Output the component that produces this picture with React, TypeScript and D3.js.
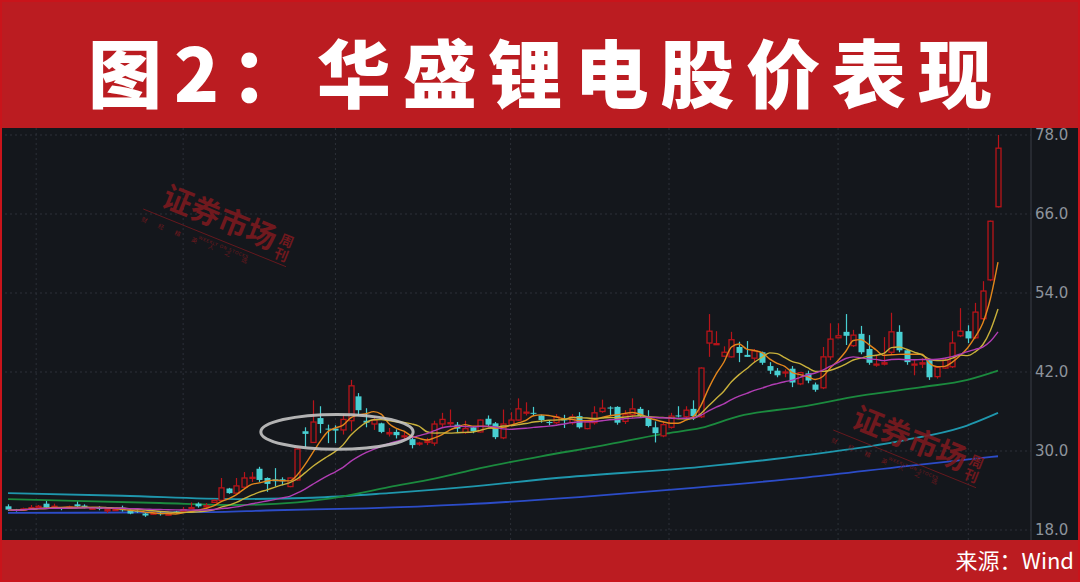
import { useEffect, useRef } from "react";
import * as d3 from "d3";

const W = 1080;
const H = 582;

// daily candles, left to right
const opens = [
  21.6, 21.1, 21.0, 21.3, 21.4, 22.0, 21.4, 21.4, 21.3, 21.9,
  21.7, 21.2, 21.5, 20.9, 21.0, 21.4, 21.0, 20.9, 20.5, 20.4,
  20.6, 20.3, 20.8, 20.8, 21.3, 22.0, 21.5, 22.2, 22.5, 24.3,
  23.6, 24.5, 25.9, 27.3, 25.9, 25.7, 25.7, 24.6, 25.6, 33.0,
  31.3, 35.0, 33.4, 33.4, 33.2, 34.6, 38.3, 34.6, 34.1, 34.2,
  32.6, 32.9, 32.2, 31.8, 31.1, 31.3, 31.2, 34.1, 34.2, 34.0,
  32.8, 33.6, 32.9, 34.9, 34.2, 32.0, 33.9, 34.7, 35.8, 35.8,
  35.4, 34.4, 34.3, 34.8, 34.3, 35.3, 33.4, 34.3, 36.0, 36.6,
  36.7, 34.5, 35.5, 36.4, 35.2, 33.6, 32.3, 33.6, 35.4, 35.2,
  36.4, 35.2, 46.4, 46.2, 44.4, 44.3, 45.8, 44.6, 44.1, 45.0,
  42.9, 42.2, 41.9, 42.5, 40.2, 41.8, 40.1, 39.6, 44.3, 47.2,
  48.1, 46.0, 47.8, 45.5, 43.1, 43.2, 45.0, 48.1, 45.3, 43.1,
  43.2, 43.8, 41.3, 42.6, 42.8, 47.5, 48.2, 47.2, 50.1, 56.0,
  67.1,
];
const highs = [
  21.9, 21.2, 21.4, 21.8, 21.8, 22.4, 22.0, 21.5, 21.7, 22.3,
  21.9, 21.5, 21.6, 21.2, 21.3, 21.7, 21.1, 21.0, 20.6, 20.8,
  20.8, 20.6, 20.9, 21.5, 22.2, 22.2, 22.1, 22.7, 25.9, 24.4,
  25.9, 26.8, 26.8, 27.6, 26.0, 27.4, 26.0, 26.0, 30.5, 33.6,
  37.7, 36.8, 34.0, 33.9, 35.6, 40.8, 38.8, 36.5, 35.3, 34.3,
  33.5, 33.3, 33.0, 32.1, 31.4, 32.0, 34.6, 35.8, 36.3, 34.4,
  34.6, 33.7, 34.8, 35.4, 34.4, 36.3, 35.9, 38.0, 37.4, 36.7,
  35.5, 34.7, 35.6, 35.5, 35.6, 35.9, 34.6, 36.8, 37.8, 36.8,
  36.8, 36.2, 38.0, 36.7, 36.2, 34.5, 34.5, 35.8, 36.8, 36.8,
  37.7, 42.7, 50.8, 48.2, 45.9, 48.1, 46.6, 46.7, 45.5, 45.1,
  43.5, 42.6, 42.4, 42.9, 42.0, 42.2, 40.4, 45.8, 49.4, 49.4,
  50.8, 48.4, 49.0, 47.6, 44.6, 47.3, 51.0, 49.1, 45.5, 43.8,
  44.1, 44.0, 42.8, 44.1, 48.2, 51.7, 49.1, 52.5, 55.8, 65.0,
  78.0,
];
const lows = [
  20.9, 20.8, 20.9, 21.2, 21.3, 21.3, 21.3, 21.0, 21.2, 21.5,
  21.3, 21.1, 21.0, 20.6, 20.9, 20.8, 20.4, 20.6, 20.0, 20.3,
  20.2, 20.2, 20.5, 20.7, 21.2, 21.4, 21.4, 22.1, 22.4, 23.5,
  23.5, 24.4, 25.3, 25.3, 23.8, 24.6, 24.8, 24.5, 25.5, 30.6,
  31.3, 32.7, 31.2, 31.2, 32.5, 33.0, 35.5, 33.6, 33.2, 32.7,
  32.2, 31.9, 31.7, 30.4, 30.8, 30.9, 30.8, 33.6, 33.8, 32.8,
  32.6, 32.7, 32.8, 33.6, 31.8, 31.8, 33.7, 34.6, 35.4, 35.4,
  34.3, 33.9, 34.1, 33.5, 34.0, 33.4, 33.3, 34.0, 35.8, 35.3,
  34.0, 34.1, 35.0, 35.2, 33.6, 31.3, 32.1, 33.4, 35.1, 35.0,
  34.7, 35.0, 44.3, 46.1, 44.3, 44.2, 43.5, 44.3, 43.4, 43.1,
  41.7, 41.2, 41.2, 39.7, 40.0, 40.3, 39.0, 39.4, 43.8, 47.2,
  46.1, 45.8, 44.7, 43.1, 42.8, 43.0, 44.6, 45.0, 43.1, 41.5,
  42.6, 40.8, 41.0, 42.5, 42.6, 47.3, 46.4, 47.0, 49.9, 55.8,
  67.0,
];
const closes = [
  21.1, 20.9, 21.2, 21.4, 21.6, 21.4, 21.6, 21.2, 21.5, 21.6,
  21.5, 21.3, 21.2, 21.1, 21.1, 21.0, 20.5, 20.8, 20.2, 20.6,
  20.4, 20.4, 20.6, 21.1, 21.4, 21.6, 21.7, 22.5, 24.4, 23.6,
  24.7, 25.9, 26.0, 25.6, 25.0, 25.4, 25.4, 25.9, 30.3, 32.6,
  34.4, 34.1, 33.3, 33.1, 34.8, 39.9, 36.2, 34.3, 34.7, 32.9,
  32.8, 32.4, 32.3, 30.9, 31.2, 31.5, 34.1, 34.8, 34.3, 33.4,
  33.4, 33.0, 34.7, 34.0, 32.1, 34.1, 34.7, 36.4, 35.9, 35.7,
  34.7, 34.3, 35.2, 34.7, 35.2, 33.6, 34.4, 35.8, 36.5, 36.5,
  34.3, 35.5, 36.4, 35.3, 33.8, 32.7, 34.0, 35.3, 35.3, 36.2,
  35.3, 42.6, 48.2, 46.3, 45.0, 46.9, 44.9, 44.3, 45.2, 43.4,
  42.2, 41.5, 42.0, 40.4, 41.9, 40.7, 39.3, 44.3, 47.0, 47.5,
  47.5, 47.6, 45.0, 43.4, 43.2, 43.4, 48.1, 45.3, 43.5, 43.2,
  43.4, 41.2, 42.7, 43.8, 46.4, 48.2, 47.1, 51.1, 54.3, 64.9,
  76.0,
];

// long moving averages: [candle index, price]
const ma60 = [
  [0, 22.7], [10, 22.4], [20, 22.1], [30, 21.8], [38, 22.2], [44, 23.1],
  [50, 24.5], [56, 25.8], [62, 27.4], [70, 29.2], [78, 30.8], [86, 32.6],
  [91, 33.5], [96, 35.3], [104, 36.7], [112, 38.4], [120, 39.7], [126, 40.8],
  [130, 42.2],
];
const ma120 = [
  [0, 23.6], [15, 23.2], [30, 22.7], [40, 22.9], [50, 23.6], [60, 24.5],
  [72, 25.9], [91, 27.6], [105, 29.4], [118, 31.7], [125, 33.5], [130, 35.8],
];
const ma250 = [
  [0, 20.6], [25, 20.7], [35, 21.0], [47, 21.3], [60, 21.9], [75, 23.0],
  [90, 24.4], [105, 26.0], [118, 27.7], [130, 29.2],
];

const shortMA = [5, 10, 20];
const yTicks = [18, 30, 42, 54, 66, 78];
const gridIdx = [3.7, 23, 43, 66, 86.8, 109, 126.1];

// circled area: centre (candle index, price) and half extents
const ring = { i: 43.2, p: 32.9, di: 10, dp: 2.65 };

const TITLE = "图2：华盛锂电股价表现";
const SOURCE = "来源：Wind";

const RED_BAND = "#bb1c21";
const BG = "#14171c";
const UP = "#b8141a";
const DOWN = "#48cfd2";
const MA_COLORS = ["#e3861c", "#c9b13b", "#b13db3"];
const WM = "#7a1a1f";

export default function App() {
  const svgRef = useRef<SVGSVGElement>(null);

  useEffect(() => {
    document.body.style.margin = "0";
    const svg = d3.select(svgRef.current);
    svg.selectAll("*").remove();

    const x = d3.scaleLinear().domain([0, 130]).range([8, 998]);
    const y = d3.scaleLinear().domain([18, 78]).range([530, 135]);

    // bands
    svg.append("rect").attr("width", W).attr("height", H).attr("fill", BG);
    svg.append("rect").attr("width", W).attr("height", 128).attr("fill", RED_BAND);
    svg.append("rect").attr("y", 540).attr("width", W).attr("height", 42).attr("fill", RED_BAND);

    const plot = svg.append("g");

    // grid
    plot.selectAll(".hg").data(yTicks).join("line")
      .attr("x1", 0).attr("x2", 1031)
      .attr("y1", (d) => y(d)).attr("y2", (d) => y(d))
      .attr("stroke", "#2c3038").attr("stroke-dasharray", "2,3");
    plot.selectAll(".vg").data(gridIdx).join("line")
      .attr("x1", (d) => x(d)).attr("x2", (d) => x(d))
      .attr("y1", 128).attr("y2", 540)
      .attr("stroke", "#2c3038").attr("stroke-dasharray", "2,3");
    plot.append("line").attr("x1", 1031).attr("x2", 1031).attr("y1", 128).attr("y2", 540)
      .attr("stroke", "#3a3f47");

    // watermarks
    const wm = (ox: number, oy: number) => {
      const g = svg.append("g").attr("transform", `translate(${ox},${oy}) rotate(22)`)
        .attr("fill", WM).attr("opacity", 0.9)
        .style("font-family", "'Noto Sans CJK SC'");
      g.append("text").attr("font-size", 30).attr("font-weight", 700)
        .attr("letter-spacing", 0).text("证券市场");
      g.append("text").attr("x", 124).attr("y", -9).attr("font-size", 14).attr("font-weight", 700).text("周");
      g.append("text").attr("x", 124).attr("y", 6).attr("font-size", 14).attr("font-weight", 700).text("刊");
      g.append("line").attr("x1", -14).attr("x2", 140).attr("y1", 10).attr("y2", 10)
        .attr("stroke", WM).attr("stroke-width", 0.8);
      g.append("text").attr("x", -12).attr("y", 22).attr("font-size", 6).attr("letter-spacing", 12)
        .text("财经精英人之选");
      g.append("text").attr("x", 48).attr("y", 17).attr("font-size", 4.5).attr("letter-spacing", 0.5)
        .style("font-family", "'DejaVu Sans'").text("WEEKLY ON STOCKS");
    };
    wm(160, 205);
    wm(850, 426);

    // long moving averages
    const pairLine = d3.line<number[]>().x((d) => x(d[0])).y((d) => y(d[1])).curve(d3.curveMonotoneX);
    [[ma250, "#2c4cc8"], [ma120, "#1f97ad"], [ma60, "#1b8a3e"]].forEach(([data, color]) => {
      plot.append("path").datum(data as number[][]).attr("d", pairLine)
        .attr("fill", "none").attr("stroke", color as string).attr("stroke-width", 1.8);
    });

    // candles
    const bw = 5;
    closes.forEach((c, i) => {
      const o = opens[i];
      const cx = Math.round(x(i)) + 0.5;
      const up = c >= o;
      const top = y(Math.max(o, c));
      const bot = y(Math.min(o, c));
      const bh = Math.max(bot - top, 1);
      const color = up ? UP : DOWN;
      if (up) {
        plot.append("line").attr("x1", cx).attr("x2", cx).attr("y1", y(highs[i])).attr("y2", top)
          .attr("stroke", color).attr("stroke-width", 1.2);
        plot.append("line").attr("x1", cx).attr("x2", cx).attr("y1", top + bh).attr("y2", y(lows[i]))
          .attr("stroke", color).attr("stroke-width", 1.2);
        plot.append("rect").attr("x", cx - bw / 2).attr("y", top).attr("width", bw).attr("height", bh)
          .attr("fill", BG).attr("stroke", color).attr("stroke-width", 1.3);
      } else {
        plot.append("line").attr("x1", cx).attr("x2", cx).attr("y1", y(highs[i])).attr("y2", y(lows[i]))
          .attr("stroke", color).attr("stroke-width", 1.2);
        plot.append("rect").attr("x", cx - bw / 2 - 0.5).attr("y", top).attr("width", bw + 1).attr("height", bh)
          .attr("fill", color);
      }
    });

    // short moving averages from closes
    shortMA.forEach((n, k) => {
      const vals = closes.map((_, i) => {
        const s = closes.slice(Math.max(0, i - n + 1), i + 1);
        return d3.mean(s) as number;
      });
      const line = d3.line<number>().x((_, i) => x(i)).y((d) => y(d)).curve(d3.curveMonotoneX);
      plot.append("path").datum(vals).attr("d", line)
        .attr("fill", "none").attr("stroke", MA_COLORS[k]).attr("stroke-width", 1.4);
    });

    // ring annotation
    plot.append("ellipse")
      .attr("cx", x(ring.i)).attr("cy", y(ring.p))
      .attr("rx", x(ring.i + ring.di) - x(ring.i))
      .attr("ry", y(ring.p - ring.dp) - y(ring.p))
      .attr("fill", "none").attr("stroke", "#c4c4c4").attr("stroke-width", 3).attr("opacity", 0.9);

    // right axis
    const axis = svg.append("g").attr("transform", "translate(1031,0)")
      .call(d3.axisRight(y).tickValues(yTicks).tickSize(0).tickPadding(4).tickFormat(d3.format(".1f")));
    axis.select(".domain").remove();
    axis.selectAll(".tick text").attr("fill", "#8d939b").attr("font-size", 15)
      .attr("font-family", "'DejaVu Sans'");

    // titles
    svg.append("text").attr("x", 88).attr("y", 102)
      .attr("textLength", 904).attr("lengthAdjust", "spacing")
      .attr("fill", "#fff").attr("font-size", 74).attr("font-weight", 900)
      .attr("font-family", "'Noto Sans CJK SC'").text(TITLE);
    svg.append("text").attr("x", 1074).attr("y", 569).attr("text-anchor", "end")
      .attr("fill", "#fff").attr("font-size", 22)
      .attr("font-family", "'Noto Sans CJK SC'").text(SOURCE);

    // frame
    svg.append("rect").attr("x", 1).attr("y", 1).attr("width", W - 2).attr("height", H - 2)
      .attr("fill", "none").attr("stroke", "#c9141b").attr("stroke-width", 2);
  }, []);

  return (
    <div style={{ position: "absolute", left: 0, top: 0 }}>
      <svg ref={svgRef} width={W} height={H} style={{ display: "block" }} />
    </div>
  );
}
